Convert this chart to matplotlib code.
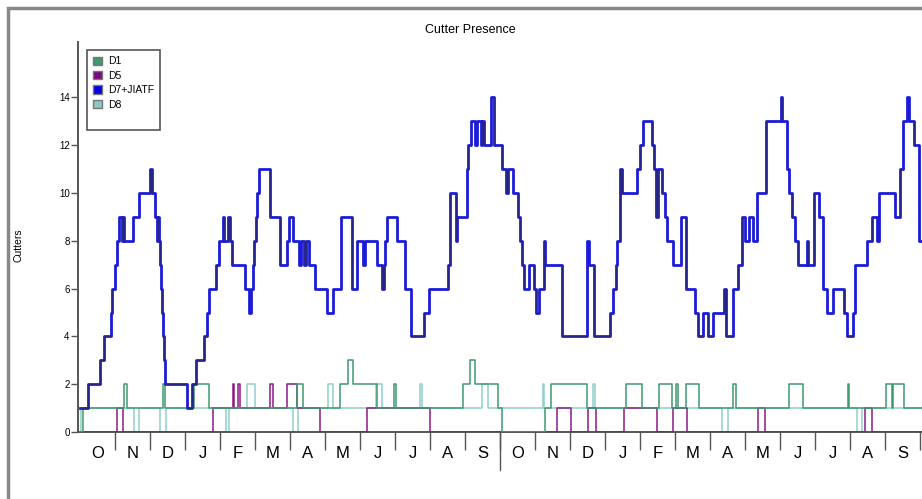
import matplotlib.pyplot as plt
from matplotlib.patches import Patch, Rectangle

plt.rcParams['font.family'] = ['Liberation Sans', 'DejaVu Sans']

# time in months since 1 October of the first season, value = cutters on station
months = ["O", "N", "D", "J", "F", "M", "A", "M", "J", "J", "A", "S"] * 2

d7_t = [0, 0.237, 0.571, 0.686, 0.877, 0.923, 1.0, 1.066, 1.123, 1.191, 1.22, 1.266,
        1.523, 1.686, 2.0, 2.049, 2.143, 2.191, 2.22, 2.257, 2.286, 2.306, 2.334, 2.363,
        2.391, 2.429, 3.049, 3.191, 3.306, 3.543, 3.629, 3.686, 3.886, 3.98, 4.077, 4.114,
        4.237, 4.277, 4.334, 4.714, 4.837, 4.886, 4.934, 4.98, 5.029, 5.071, 5.114, 5.429,
        5.714, 5.906, 5.98, 6.094, 6.266, 6.306, 6.409, 6.449, 6.551, 6.714, 7.049, 7.237,
        7.457, 7.763, 7.906, 8.094, 8.143, 8.477, 8.62, 8.686, 8.714, 8.763, 9.049, 9.286,
        9.457, 9.843, 9.971, 10.523, 10.571, 10.734, 10.78, 11.049, 11.094, 11.171, 11.286,
        11.334, 11.457, 11.494, 11.543, 11.743, 11.82, 12.049, 12.171, 12.22, 12.38, 12.506,
        12.571, 12.637, 12.694, 12.837, 12.971, 13.02, 13.114, 13.249, 13.286, 13.763,
        14.486, 14.543, 14.694, 15.143, 15.237, 15.306, 15.351, 15.429, 15.477, 15.906,
        16.0, 16.094, 16.351, 16.409, 16.457, 16.523, 16.62, 16.714, 16.763, 16.951, 17.171,
        17.306, 17.571, 17.649, 17.809, 17.934, 18.094, 18.391, 18.449, 18.666, 18.809,
        18.906, 19.0, 19.114, 19.237, 19.334, 19.591, 20.02, 20.066, 20.209, 20.257, 20.334,
        20.429, 20.523, 20.763, 20.809, 20.98, 21.114, 21.237, 21.334, 21.523, 21.837,
        21.906, 22.094, 22.143, 22.477, 22.62, 22.78, 22.82, 23.286, 23.429, 23.506, 23.62,
        23.686, 23.829, 23.98]
d7_v = [1, 2, 3, 4, 5, 6, 7, 8, 9, 8, 9, 8,
        9, 10, 11, 10, 9, 8, 9, 8, 7, 6, 5, 4,
        3, 2, 1, 2, 3, 4, 5, 6, 7, 8, 9, 8,
        9, 8, 7, 6, 5, 6, 7, 8, 9, 10, 11, 9,
        7, 8, 9, 8, 7, 8, 7, 8, 7, 6, 5, 6,
        9, 6, 8, 7, 8, 7, 6, 7, 8, 9, 8, 6,
        4, 5, 6, 7, 10, 8, 9, 11, 12, 13, 12,
        13, 12, 13, 12, 14, 12, 11, 10, 11, 10, 9,
        8, 7, 6, 7, 6, 5, 6, 8, 7, 4,
        8, 7, 4, 5, 6, 7, 8, 11, 10, 11,
        12, 13, 12, 11, 9, 11, 10, 9, 8, 7, 9,
        6, 5, 4, 5, 4, 5, 6, 4, 6, 7,
        9, 8, 9, 8, 10, 13, 14, 13, 11, 10, 9,
        8, 7, 8, 7, 10, 9, 6, 5, 6, 5,
        4, 5, 7, 8, 9, 8, 10, 9, 11, 13, 14,
        13, 12, 8]

d1_t = [0, 0.086, 1.271, 1.329, 2.386, 2.443, 3.257, 3.686, 6.2, 6.371, 7.429, 7.657,
        7.8, 8.486, 8.986, 9.043, 10.943, 11.143, 11.286, 11.943, 12.057, 13.286, 13.457,
        14.486, 15.6, 16.057, 16.543, 16.914, 17.043, 17.086, 17.314, 17.686, 18.657,
        18.743, 20.257, 20.657, 21.943, 21.986, 23.029, 23.2, 23.243, 23.543]
d1_v = [0, 1, 2, 1, 2, 1, 2, 1, 2, 1, 2, 3,
        2, 1, 2, 1, 2, 3, 2, 1, 0, 1, 2,
        1, 2, 1, 2, 1, 2, 1, 2, 1, 2,
        1, 2, 1, 2, 1, 2, 1, 2, 1]

d5_t = [0, 1.057, 1.229, 3.8, 4.371, 4.414, 4.529, 4.571, 5.443, 5.514, 5.914, 6.2,
        6.857, 8.2, 10.0, 13.629, 14.029, 14.514, 14.743, 15.543, 16.486, 16.943, 17.343,
        19.371, 19.571, 22.429, 22.629]
d5_v = [0, 1, 0, 1, 2, 1, 2, 1, 2, 1, 2, 1,
        0, 1, 0, 1, 0, 1, 0, 1, 0, 1, 0,
        1, 0, 1, 0]

d8_t = [0, 0.029, 1.543, 1.686, 2.286, 2.457, 4.171, 4.257, 4.771, 5.0, 6.086, 6.229,
        7.086, 7.229, 8.457, 8.629, 9.729, 9.786, 11.486, 11.657, 13.229, 13.271, 14.657,
        14.714, 18.343, 18.514, 22.2, 22.343]
d8_v = [0, 1, 0, 1, 0, 1, 0, 1, 2, 1, 0, 1,
        2, 1, 2, 1, 2, 1, 2, 1, 2, 1, 2,
        1, 0, 1, 0, 1]

end = 24.06

fig = plt.figure(figsize=(9.22, 4.99), dpi=100)
ax = fig.add_axes([78 / 922, 1 - 432 / 499, 844 / 922, 390 / 499])

ax.plot(d8_t + [end], d8_v + [d8_v[-1]], drawstyle="steps-post", color="#8fd0c8", lw=1.1, zorder=2)
ax.plot(d5_t + [end], d5_v + [d5_v[-1]], drawstyle="steps-post", color="#8a1a86", lw=1.1, zorder=3)
ax.plot(d1_t + [end], d1_v + [d1_v[-1]], drawstyle="steps-post", color="#3f9a70", lw=1.1, zorder=4)
ax.plot(d7_t + [end], d7_v + [d7_v[-1]], drawstyle="steps-post", color="#1c1cd8", lw=2.0, zorder=5)
ax.plot(d7_t + [end], d7_v + [d7_v[-1]], drawstyle="steps-post", color="#2a2a6a", lw=0.5, zorder=6)

ax.set_xlim(-0.057, end)
ax.set_ylim(0, 16.32)
ax.spines[["top", "right"]].set_visible(False)
for s in ["left", "bottom"]:
    ax.spines[s].set_color("#555555")
    ax.spines[s].set_linewidth(1.4)

ax.set_yticks(range(0, 15, 2))
ax.tick_params(axis="y", labelsize=7, length=5, width=1, color="#555555", pad=1)

ax.set_xticks(range(1, 25))
ax.set_xticklabels([])
ax.tick_params(axis="x", which="major", length=13, width=1, color="#555555")
ax.set_xticks([i + 0.5 for i in range(24)], minor=True)
ax.set_xticklabels(months, minor=True)
ax.tick_params(axis="x", which="minor", length=0, labelsize=12, pad=10)
# longer separator between the two seasons
ax.plot([12, 12], [0, -1.6], color="#555555", lw=1, clip_on=False)

handles = [Patch(facecolor="#3f9a70", edgecolor="#777777", label="D1"),
           Patch(facecolor="#7a0a80", edgecolor="#777777", label="D5"),
           Patch(facecolor="#0000e0", edgecolor="#777777", label="D7+JIATF"),
           Patch(facecolor="#8fc8c0", edgecolor="#777777", label="D8"),
           Patch(facecolor="none", edgecolor="none", label=" ")]
leg = ax.legend(handles=handles, loc="upper left", bbox_to_anchor=(0.0107, 0.979),
                borderaxespad=0, fontsize=7.5, handlelength=0.85, handleheight=0.85,
                handletextpad=0.55, labelspacing=0.42, borderpad=0.6, fancybox=False,
                framealpha=1)
leg.get_frame().set_edgecolor("#555555")
leg.get_frame().set_linewidth(1.2)

fig.text(470 / 922, 1 - 30 / 499, "Cutter Presence", ha="center", va="center", fontsize=9)
fig.text(18 / 922, 1 - 245 / 499, "Cutters", ha="center", va="center", rotation=90, fontsize=7.5)

fig.add_artist(Rectangle((8 / 922, -0.1), 1.2, 1.1 - 8 / 499, transform=fig.transFigure,
                         fill=False, edgecolor="#888888", lw=2.5))

fig.savefig("out.png", dpi=100)
